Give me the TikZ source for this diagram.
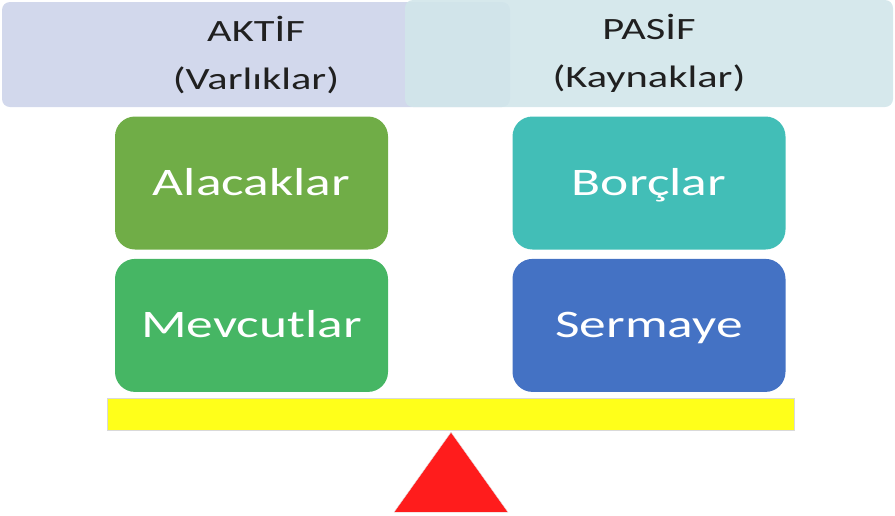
\documentclass[tikz,border=0pt]{standalone}
\usepackage{fontspec}
\newfontfamily\widefont{Carlito}[FakeStretch=1.37]
\usepackage{tikz}
\usetikzlibrary{positioning,calc}
\definecolor{aktifbg}{RGB}{210,216,236}
\definecolor{pasifbg}{RGB}{209,230,234}
\definecolor{headtxt}{RGB}{32,32,32}
\definecolor{alacakc}{RGB}{112,173,71}
\definecolor{mevcutc}{RGB}{70,182,100}
\definecolor{borcc}{RGB}{66,190,183}
\definecolor{sermayec}{RGB}{68,114,196}
\definecolor{barc}{RGB}{255,255,26}
\definecolor{triac}{RGB}{255,28,28}
\tikzset{
  head/.style={rounded corners=8, minimum height=105, inner sep=0, align=center,
    text=headtxt, font=\widefont\fontsize{31}{48}\selectfont},
  hesap/.style={rounded corners=20, minimum width=273, minimum height=133,
    inner sep=0, text height=25, text depth=0, text=white,
    font=\widefont\fontsize{39}{39}\selectfont}
}

\begin{document}
\begin{tikzpicture}[x=1pt,y=-1pt]
  \useasboundingbox (0,0) rectangle (895,515);
  % balance header
  \node[head, fill=aktifbg, minimum width=508] (aktif) at (256,54.5) {AKTİF\\(Varlıklar)};
  \node[head, fill=pasifbg, fill opacity=0.9, text opacity=1, minimum width=488,
        minimum height=107] (pasif) at (649,53.5) {PASİF\\(Kaynaklar)};
  % accounts
  \node[hesap, fill=alacakc] (alacak) at (251.5,183) {Alacaklar};
  \node[hesap, fill=mevcutc, below=9pt of alacak] (mevcut) {Mevcutlar};
  \node[hesap, fill=borcc] (borc) at (649,183) {Borçlar};
  \node[hesap, fill=sermayec, below=9pt of borc] (sermaye) {Sermaye};
  % scale
  \node[draw=black!15, fill=barc, minimum width=687, minimum height=32, inner sep=0]
    (bar) at (450.5,414) {};
  \coordinate (tepe) at ($(bar.south)+(0.5,2)$);
  \filldraw[fill=triac, draw=black!10] (tepe) -- ($(tepe)+(57,80)$) -- ($(tepe)+(-57,80)$) -- cycle;
\end{tikzpicture}
\end{document}
